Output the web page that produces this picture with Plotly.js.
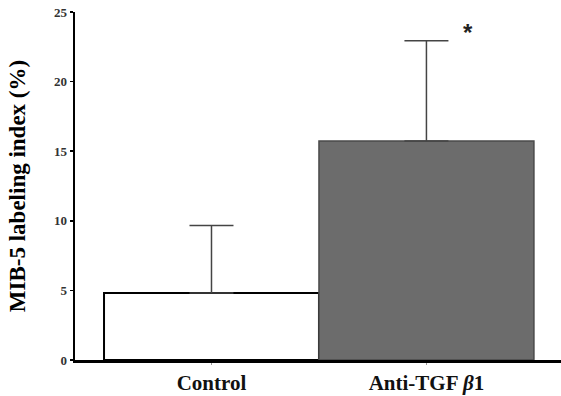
<!DOCTYPE html>
<html>
<head>
<meta charset="utf-8">
<script src="https://cdn.plot.ly/plotly-3.0.1.min.js"></script>
<style>html,body{margin:0;padding:0;background:#fff;}#chart{width:561px;height:396px;}</style>
</head>
<body>
<div id="chart"></div>
<script>
// Data
const categories = ["Control", "Anti-TGF <i>β</i>1"];
const meanValues = [4.81, 15.74];
const errorPlus = [4.85, 7.19];
const yTicks = [0, 5, 10, 15, 20, 25];
const significanceMark = "*";

const xPos = categories.map((c, i) => i);

const trace = {
  type: "bar",
  x: xPos,
  y: meanValues,
  width: 1,
  marker: {
    color: ["#ffffff", "#6c6c6c"],
    line: {color: ["#000000", "#4a4a4a"], width: [2, 1.5]}
  },
  error_y: {
    type: "data",
    symmetric: false,
    array: errorPlus,
    arrayminus: [0, 0],
    color: "#444444",
    thickness: 1.5,
    width: 22
  },
  hoverinfo: "skip"
};

const layout = {
  width: 561,
  height: 396,
  margin: {l: 75, r: 0, t: 12, b: 36},
  paper_bgcolor: "#ffffff",
  plot_bgcolor: "#ffffff",
  showlegend: false,
  font: {family: "Liberation Serif, Times New Roman, serif", color: "#000"},
  xaxis: {
    range: [-0.635, 1.626],
    tickvals: xPos,
    ticktext: categories.map(c => "<b>" + c + "</b>"),
    tickfont: {size: 21, color: "#111"},
    ticks: "outside",
    ticklen: 2,
    tickwidth: 1,
    tickcolor: "#999",
    showline: true,
    linecolor: "#000",
    linewidth: 2.5,
    showgrid: false,
    zeroline: false,
    fixedrange: true
  },
  yaxis: {
    range: [0, 25],
    tickvals: yTicks,
    ticktext: yTicks.map(v => "<b>" + v + "</b>"),
    tickfont: {size: 13, color: "#333"},
    ticks: "outside",
    ticklen: 3,
    tickwidth: 1.5,
    tickcolor: "#000",
    showline: true,
    linecolor: "#000",
    linewidth: 2.5,
    showgrid: false,
    zeroline: false,
    title: {
      text: "<b>MIB-5 labeling index (%)</b>",
      font: {size: 23, color: "#000"},
      standoff: 22
    },
    fixedrange: true
  },
  annotations: [{
    x: 1.193,
    y: 23.55,
    xref: "x",
    yref: "y",
    text: "<b>" + significanceMark + "</b>",
    showarrow: false,
    font: {size: 24, color: "#222", family: "Liberation Sans, Arial, sans-serif"}
  }]
};

Plotly.newPlot("chart", [trace], layout, {displayModeBar: false, staticPlot: true});
</script>
</body>
</html>
